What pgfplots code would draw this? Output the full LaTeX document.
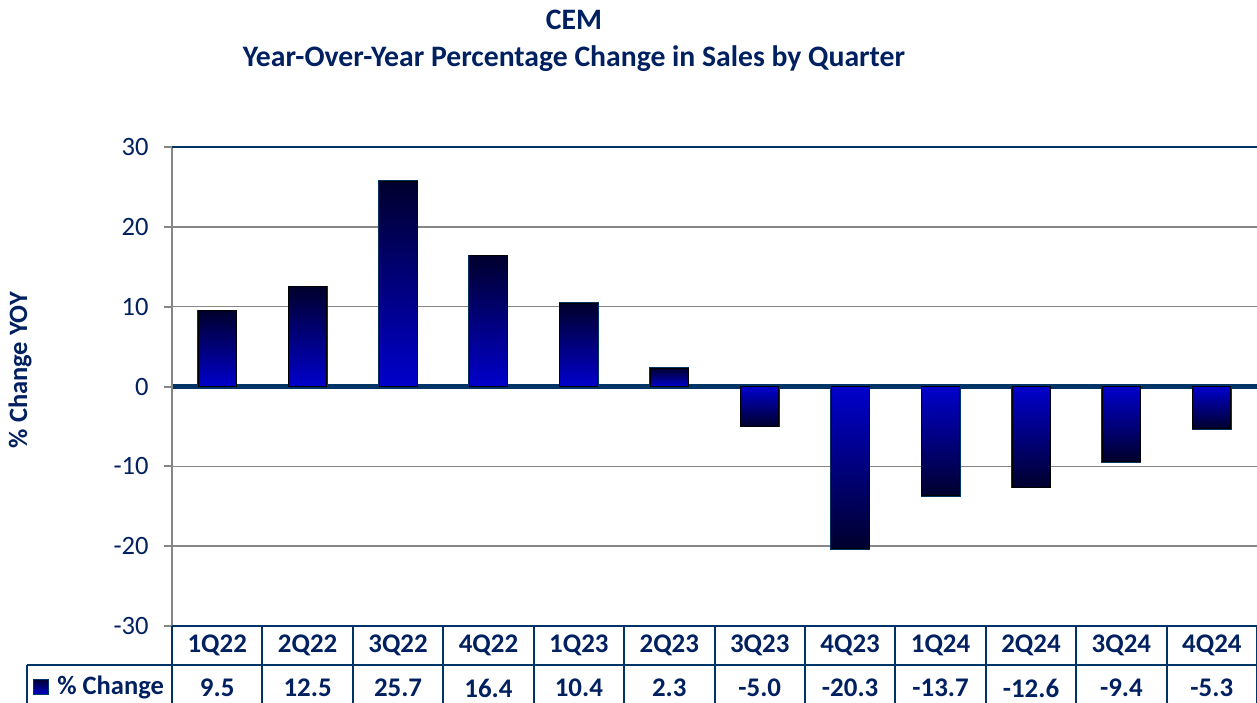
\documentclass[border=0pt]{standalone}
\usepackage{fontspec}
\setmainfont{Carlito}
\usepackage{pgfplots}
\usepackage{pgfplotstable}
\pgfplotsset{compat=1.18}
\definecolor{navy}{RGB}{0,32,96}
\definecolor{linenavy}{RGB}{0,51,102}
\definecolor{bardark}{RGB}{0,0,45}
\definecolor{barblue}{RGB}{0,0,204}
\definecolor{gridgray}{RGB}{134,134,134}

% quarterly YoY change
\pgfplotstableread{
idx label v
0 1Q22 9.5
1 2Q22 12.5
2 3Q22 25.7
3 4Q22 16.4
4 1Q23 10.4
5 2Q23 2.3
6 3Q23 -5.0
7 4Q23 -20.3
8 1Q24 -13.7
9 2Q24 -12.6
10 3Q24 -9.4
11 4Q24 -5.3
}\sales

\begin{document}
\begin{tikzpicture}
\begin{axis}[
    scale only axis, width=542.5bp, height=239.5bp,
    xmin=-0.5, xmax=11.5, ymin=-30, ymax=30,
    xtick={0,...,11}, xticklabels={},
    ytick={-30,-20,...,30},
    axis line style={draw=none},
    xtick style={draw=none},
    ytick style={draw=gridgray, line width=1bp},
    tick align=outside, major tick length=4bp,
    yticklabel style={font=\fontsize{13.3}{13}\selectfont, text=navy, inner sep=0pt, xshift=-7.5bp},
    /pgf/number format/assume math mode=true,
    ymajorgrids, grid style={draw=gridgray, line width=0.75bp},
    clip=false,
    ylabel={\% Change YOY},
    every axis y label/.style={at={(rel axis cs:-0.1401,0.534)}, rotate=90, anchor=center,
        font=\bfseries\fontsize{13.3}{13}\selectfont, text=navy},
    title={CEM\\Year-Over-Year Percentage Change in Sales by Quarter},
    every axis title/.style={at={(rel axis cs:0.3705,1.2213)}, anchor=center, align=center,
        font=\bfseries\fontsize{14.9}{18.5}\selectfont, text=navy},
    legend style={at={(rel axis cs:-0.1281,-0.1273)}, anchor=west, draw=none, fill=none,
        inner sep=0pt, font=\bfseries\fontsize{13.3}{13}\selectfont, text=navy,
        /tikz/every odd column/.append style={column sep=2bp}},
    legend image code/.code={
        \draw[draw=linenavy, line width=0.5bp, top color=bardark, bottom color=barblue]
            (0bp,-3.75bp) rectangle (7.5bp,3.75bp);},
]
% shaded bar bodies, one gradient per bar (dark at the far end, blue at zero)
\addplot[only marks, scatter, mark=*, mark size=0pt,
    visualization depends on={\thisrow{v}\as\barval},
    scatter/@pre marker code/.code={%
        \pgfmathsetmacro\barh{-\barval*239.5/60}%
        \pgfmathparse{\barval>0}%
        \ifnum\pgfmathresult=1
            \fill[top color=bardark, bottom color=barblue] (-9.5bp,0bp) rectangle (9.5bp,\barh bp);
        \else
            \fill[top color=barblue, bottom color=bardark] (-9.5bp,0bp) rectangle (9.5bp,\barh bp);
        \fi},
    scatter/@post marker code/.code={}]
    table[x=idx, y=v]{\sales};
\addlegendentry{\% Change}
% bar outlines
\addplot[ybar, bar shift=0pt, bar width=19bp, draw=linenavy, line width=1bp, fill=none,
    forget plot] table[x=idx, y=v]{\sales};
% table header: quarters
\addplot[draw=none, mark=none, forget plot, nodes near coords, point meta=explicit symbolic,
    every node near coord/.style={anchor=center, yshift=-9.75bp,
        font=\bfseries\fontsize{13.5}{13}\selectfont, text=navy}]
    table[x=idx, y expr=-30, meta=label]{\sales};
% table row: values
\addplot[draw=none, mark=none, forget plot, nodes near coords, point meta=explicit symbolic,
    every node near coord/.style={anchor=center, yshift=-31bp,
        font=\bfseries\fontsize{13.5}{13}\selectfont, text=navy}]
    table[x=idx, y expr=-30, meta=v]{\sales};
\draw[linenavy, line width=2.5bp] (axis cs:-0.5,0) -- (axis cs:11.5,0);
\end{axis}
% frame and data table lines in reference pixels (1px = 0.5bp), origin top left
\begin{scope}[shift={(-86bp,313bp)}, x=0.5bp, y=-0.5bp]
\draw[gridgray, line width=1bp] (172,147) -- (172,626);
\draw[linenavy, line width=0.75bp] (172,147) -- (1257,147);
\draw[linenavy, line width=1bp] (172,626) -- (1257,626) (27,665) -- (1257,665)
    (27,665) -- (27,705);
\foreach \k in {0,...,12}
    \draw[linenavy, line width=1bp] ({172+\k*90.4167},626) -- ({172+\k*90.4167},705);
\pgfresetboundingbox
\path[use as bounding box] (0,0) rectangle (1257,702);
\end{scope}
\end{tikzpicture}
\end{document}
